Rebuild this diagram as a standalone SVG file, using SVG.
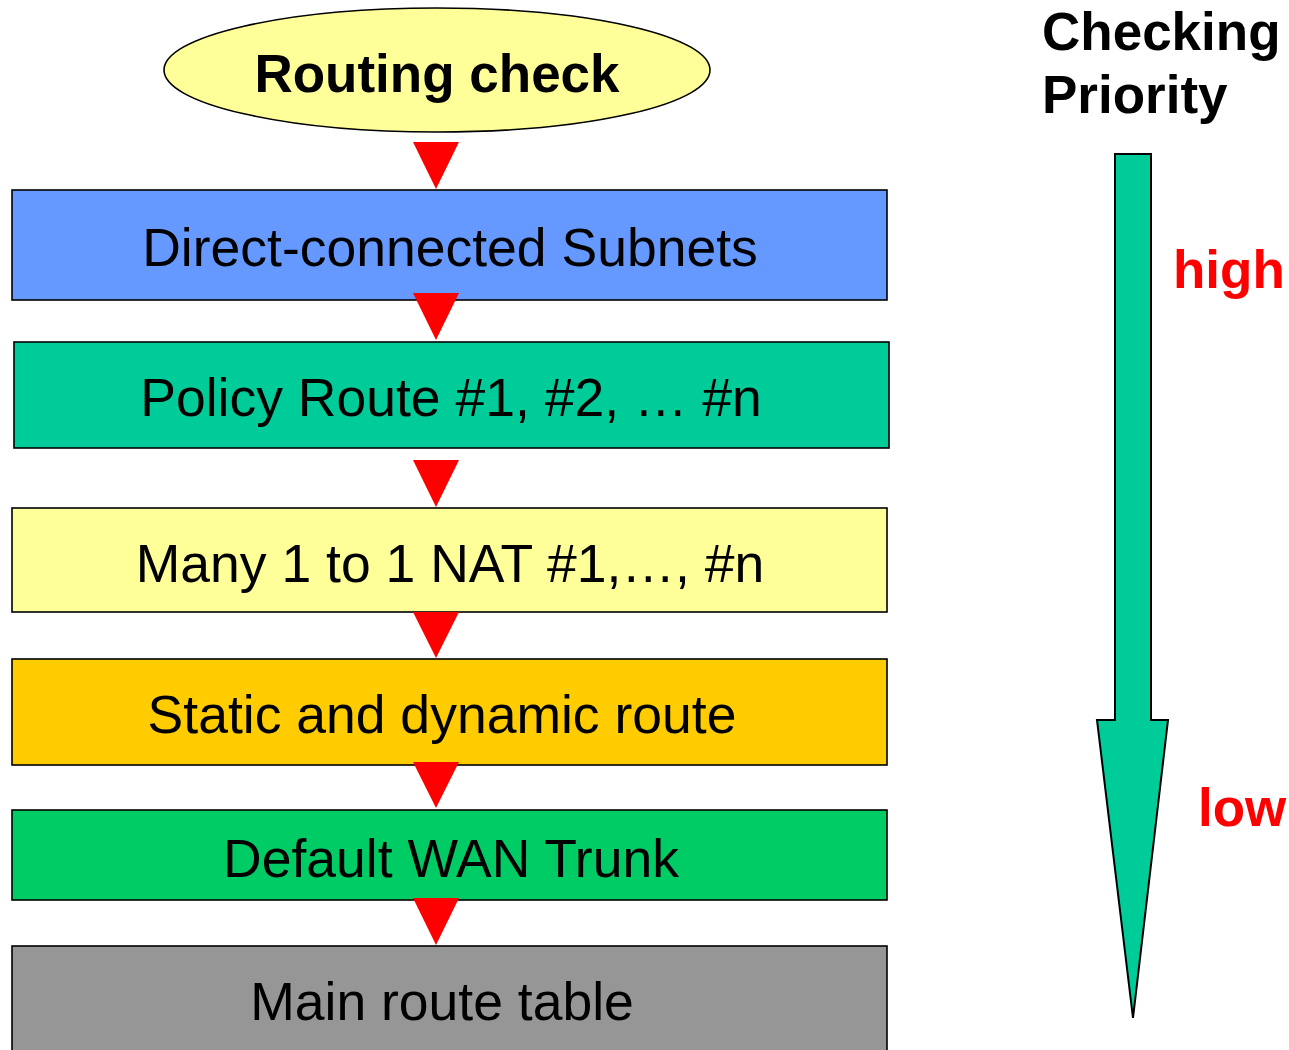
<svg xmlns="http://www.w3.org/2000/svg" width="1289" height="1050" viewBox="0 0 1289 1050">
<style>
.box{stroke:#000;stroke-width:1.6}
.t{font-family:"Liberation Sans",Arial,sans-serif;font-size:53.5px;fill:#000;text-anchor:middle}
.b{font-family:"Liberation Sans",Arial,sans-serif;font-size:53px;font-weight:bold}
.tri{fill:#FF0000}
</style>
<rect width="1289" height="1050" fill="#fff"/>
<g id="start">
<ellipse cx="437" cy="70" rx="273" ry="62" fill="#FFFF99" stroke="#000" stroke-width="1.6"/>
<text class="b" x="437" y="92" text-anchor="middle">Routing check</text>
</g>
<g id="direct">
<rect class="box" x="12" y="190" width="875" height="110" fill="#6699FF"/>
<text class="t" x="450" y="266">Direct-connected Subnets</text>
</g>
<g id="policy">
<rect class="box" x="14" y="342" width="875" height="106" fill="#00CC99"/>
<text class="t" x="451" y="416">Policy Route #1, #2, … #n</text>
</g>
<g id="nat">
<rect class="box" x="12" y="508" width="875" height="104" fill="#FFFF99"/>
<text class="t" x="450" y="582">Many 1 to 1 NAT #1,…, #n</text>
</g>
<g id="static">
<rect class="box" x="12" y="659" width="875" height="106" fill="#FFCC00"/>
<text class="t" x="442" y="733">Static and dynamic route</text>
</g>
<g id="wan">
<rect class="box" x="12" y="810" width="875" height="90" fill="#00CC66"/>
<text class="t" x="451" y="877">Default WAN Trunk</text>
</g>
<g id="main">
<rect class="box" x="12" y="946" width="875" height="110" fill="#969696"/>
<text class="t" x="442" y="1020">Main route table</text>
</g>
<g id="connectors">
<polygon class="tri" points="413,142 459,142 436,189"/>
<polygon class="tri" points="413,293 459,293 436,340"/>
<polygon class="tri" points="413,460 459,460 436,507"/>
<polygon class="tri" points="413,612 459,612 436,658"/>
<polygon class="tri" points="413,762 459,762 436,808"/>
<polygon class="tri" points="413,898 459,898 436,945"/>
</g>
<g id="priority">
<text class="b" x="1042" y="50">Checking</text>
<text class="b" x="1042" y="113">Priority</text>
<polygon points="1115,154 1151,154 1151,720 1168,720 1133,1018 1097,720 1115,720" fill="#00CC99" stroke="#000" stroke-width="2" stroke-linejoin="miter"/>
<text class="b" x="1173" y="288" fill="#FF0000">high</text>
<text class="b" x="1198" y="826" fill="#FF0000">low</text>
</g>
</svg>
